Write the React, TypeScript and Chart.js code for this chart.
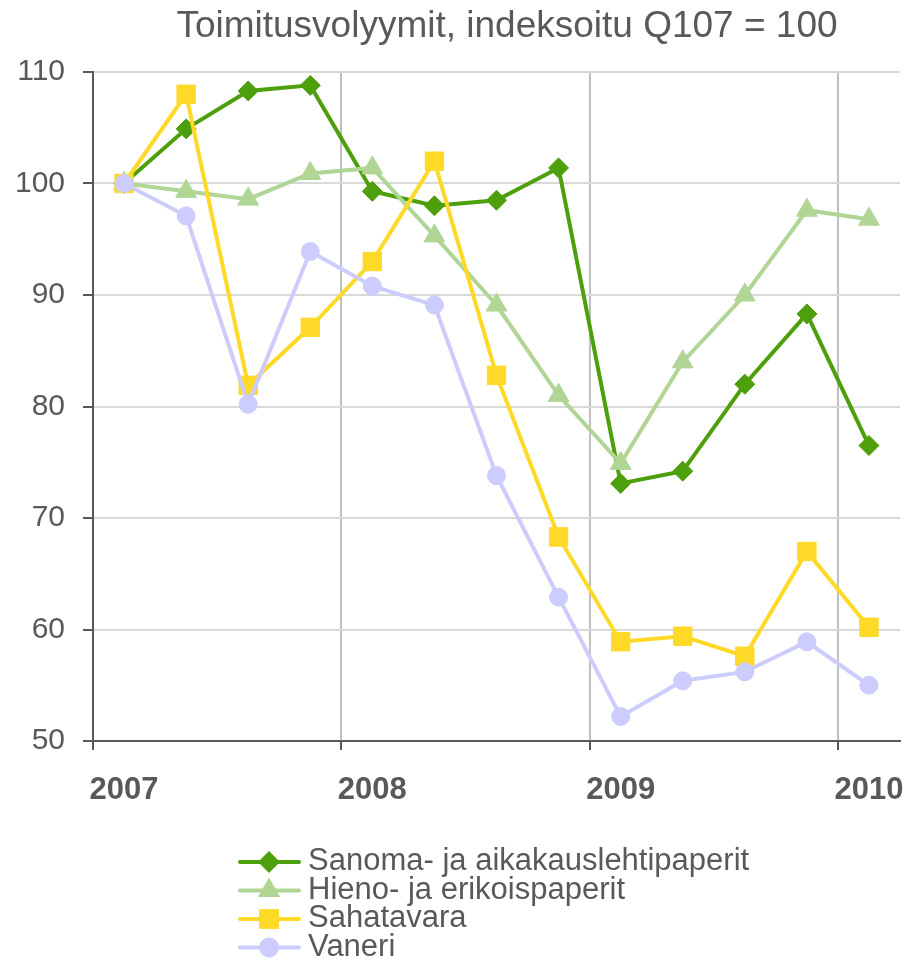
import React, { useEffect, useRef } from 'react';
import { Chart, registerables } from 'chart.js';

Chart.register(...registerables);

const TITLE = 'Toimitusvolyymit, indeksoitu Q107 = 100';

const quarters = [
  '2007 Q1', '2007 Q2', '2007 Q3', '2007 Q4',
  '2008 Q1', '2008 Q2', '2008 Q3', '2008 Q4',
  '2009 Q1', '2009 Q2', '2009 Q3', '2009 Q4',
  '2010 Q1',
];
const yearTicks = ['2007', '2008', '2009', '2010'];
const yTicks = [50, 60, 70, 80, 90, 100, 110];

const sanoma = [100, 104.9, 108.3, 108.8, 99.3, 98.0, 98.5, 101.4, 73.1, 74.2, 82.0, 88.3, 76.5];
const hieno = [100, 99.3, 98.6, 100.9, 101.4, 95.3, 89.1, 81.0, 74.9, 84.0, 90.0, 97.6, 96.8];
const sahatavara = [100, 108.0, 81.9, 87.1, 93.0, 102.0, 82.8, 68.3, 58.9, 59.4, 57.6, 67.0, 60.2];
const vaneri = [100, 97.1, 80.2, 93.9, 90.8, 89.1, 73.8, 62.9, 52.2, 55.4, 56.2, 58.9, 55.0];

const seriesNames = ['Sanoma- ja aikakauslehtipaperit', 'Hieno- ja erikoispaperit', 'Sahatavara', 'Vaneri'];

const TEXT = '#595959';
const FONT = '"Liberation Sans", Arial, sans-serif';

function drawMarker(ctx: CanvasRenderingContext2D, style: string, x: number, y: number, r: number, color: string) {
  ctx.save();
  ctx.fillStyle = color;
  ctx.beginPath();
  if (style === 'rectRot') {
    ctx.moveTo(x - r, y);
    ctx.lineTo(x, y - r);
    ctx.lineTo(x + r, y);
    ctx.lineTo(x, y + r);
    ctx.closePath();
  } else if (style === 'triangle') {
    for (let k = 0; k < 3; k++) {
      const a = -Math.PI / 2 + (k * 2 * Math.PI) / 3;
      const px = x + Math.cos(a) * r;
      const py = y + Math.sin(a) * r;
      if (k === 0) ctx.moveTo(px, py); else ctx.lineTo(px, py);
    }
    ctx.closePath();
  } else if (style === 'rect') {
    const s = r * Math.SQRT1_2;
    ctx.rect(x - s, y - s, 2 * s, 2 * s);
  } else {
    ctx.arc(x, y, r, 0, Math.PI * 2);
  }
  ctx.fill();
  ctx.restore();
}

const titleLegendPlugin = {
  id: 'titleLegend',
  afterDraw(chart: any) {
    const ctx: CanvasRenderingContext2D = chart.ctx;
    ctx.save();
    ctx.fillStyle = TEXT;
    ctx.font = `37px ${FONT}`;
    ctx.textAlign = 'center';
    ctx.textBaseline = 'alphabetic';
    ctx.fillText(TITLE, 507, 37);

    const rowY = [862, 890.5, 919, 947.5];
    chart.data.datasets.forEach((ds: any, i: number) => {
      const y = rowY[i];
      ctx.strokeStyle = ds.borderColor;
      ctx.lineWidth = 4;
      ctx.lineCap = 'round';
      ctx.beginPath();
      ctx.moveTo(240, y);
      ctx.lineTo(299, y);
      ctx.stroke();
      drawMarker(ctx, ds.pointStyle, 269, y, ds.pointRadius + 1, ds.pointBackgroundColor);
      ctx.fillStyle = TEXT;
      ctx.font = `31px ${FONT}`;
      ctx.textAlign = 'left';
      ctx.textBaseline = 'alphabetic';
      ctx.fillText(ds.label, 308, y + 8);
    });
    ctx.restore();
  },
};

export default function App() {
  const ref = useRef<HTMLCanvasElement | null>(null);

  useEffect(() => {
    if (!ref.current) return;
    const mk = (label: string, data: number[], color: string, style: string, r: number, order: number) => ({
      label,
      data,
      borderColor: color,
      backgroundColor: color,
      pointBackgroundColor: color,
      pointBorderColor: color,
      pointBorderWidth: 1,
      pointStyle: style,
      pointRadius: r,
      borderWidth: 4,
      tension: 0,
      order,
      clip: false,
    });
    const zeroX = (s: any) => {
      s.height = 70;
      s.paddingLeft = 0;
      s.paddingRight = 0;
    };
    const chart = new Chart(ref.current, {
      type: 'line',
      data: {
        labels: quarters,
        datasets: [
          mk(seriesNames[0], sanoma, '#4e9f0c', 'rectRot', 10, 4),
          mk(seriesNames[1], hieno, '#b0d595', 'triangle', 12, 3),
          mk(seriesNames[2], sahatavara, '#ffd928', 'rect', 13, 2),
          mk(seriesNames[3], vaneri, '#ccccfe', 'circle', 9, 1),
        ] as any,
      },
      options: {
        responsive: false,
        animation: false,
        devicePixelRatio: 1,
        layout: { autoPadding: false, padding: { top: 72, right: 7, bottom: 150, left: 0 } },
        plugins: {
          legend: { display: false },
          title: { display: false },
          tooltip: { enabled: false },
        },
        scales: {
          x: {
            type: 'category',
            offset: true,
            afterFit: zeroX,
            grid: {
              offset: true,
              drawTicks: true,
              tickLength: 9,
              lineWidth: 2,
              color: (c: any) => (c.index % 4 === 0 && c.index < quarters.length ? '#bfbfbf' : 'rgba(0,0,0,0)'),
              tickColor: (c: any) => (c.index % 4 === 0 && c.index < quarters.length ? TEXT : 'rgba(0,0,0,0)'),
              tickWidth: 2,
            },
            border: { display: true, color: TEXT, width: 2 },
            ticks: {
              autoSkip: false,
              maxRotation: 0,
              padding: 22,
              color: TEXT,
              font: { family: FONT, size: 31, weight: 'bold' },
              callback: (_v: any, i: number) => (i % 4 === 0 ? yearTicks[i / 4] : ''),
            },
          },
          y: {
            min: yTicks[0],
            max: yTicks[yTicks.length - 1],
            afterFit: (s: any) => {
              s.width = 93;
              s.paddingTop = 0;
              s.paddingBottom = 0;
            },
            afterBuildTicks: (s: any) => { s.ticks = yTicks.map((v) => ({ value: v })); },
            grid: {
              color: '#d9d9d9',
              lineWidth: 2,
              tickLength: 10,
              tickColor: TEXT,
              tickWidth: 2,
            },
            border: { display: true, color: TEXT, width: 2 },
            ticks: {
              padding: 18,
              color: TEXT,
              font: { family: FONT, size: 30 },
            },
          },
        },
      } as any,
      plugins: [titleLegendPlugin],
    });
    return () => chart.destroy();
  }, []);

  return (
    <div style={{ position: 'absolute', left: 0, top: 0, width: 907, height: 961, background: '#fff' }}>
      <canvas ref={ref} width={907} height={961} style={{ width: 907, height: 961, display: 'block' }} />
    </div>
  );
}
